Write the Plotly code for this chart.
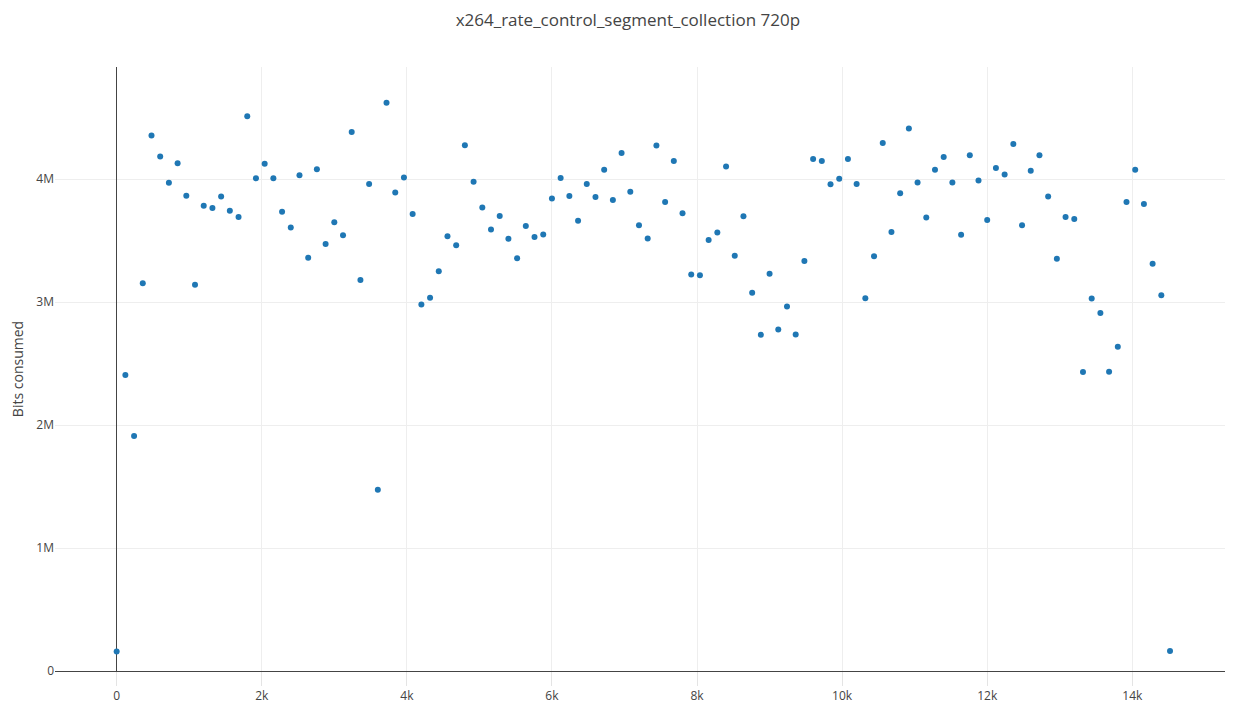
import plotly.graph_objects as go

# Segment start frame (x) and bits consumed (y)
segment_start = [i * 120 for i in range(122)]
bits_m = [
    0.159, 2.407, 1.911, 3.153, 4.355, 4.183, 3.969, 4.128, 3.865, 3.141,
    3.783, 3.765, 3.859, 3.743, 3.691, 4.511, 4.006, 4.125, 4.006, 3.734,
    3.606, 4.031, 3.361, 4.080, 3.471, 3.648, 3.544, 4.382, 3.180, 3.960,
    1.474, 4.621, 3.890, 4.012, 3.716, 2.979, 3.034, 3.251, 3.535, 3.462,
    4.275, 3.979, 3.768, 3.590, 3.700, 3.514, 3.355, 3.618, 3.529, 3.550,
    3.841, 4.009, 3.862, 3.661, 3.960, 3.853, 4.076, 3.829, 4.211, 3.896,
    3.624, 3.517, 4.272, 3.813, 4.147, 3.722, 3.223, 3.217, 3.505, 3.566,
    4.101, 3.376, 3.697, 3.076, 2.734, 3.229, 2.777, 2.963, 2.737, 3.333,
    4.162, 4.147, 3.957, 4.003, 4.162, 3.960, 3.031, 3.373, 4.294, 3.569,
    3.884, 4.410, 3.972, 3.688, 4.076, 4.180, 3.972, 3.547, 4.193, 3.988,
    3.667, 4.089, 4.037, 4.284, 3.624, 4.067, 4.193, 3.859, 3.352, 3.691,
    3.676, 2.431, 3.028, 2.911, 2.434, 2.636, 3.813, 4.076, 3.798, 3.312,
    3.055, 0.162,
]
bits = [v * 1e6 for v in bits_m]

title_text = "x264_rate_control_segment_collection 720p"
y_title = "Bits consumed"

fig = go.Figure(
    go.Scatter(
        x=segment_start,
        y=bits,
        mode="markers",
        marker=dict(color="#1f77b4", size=6),
    )
)

fig.update_layout(
    template="none",
    width=1225,
    height=700,
    margin=dict(l=47, r=0, t=59, b=37),
    paper_bgcolor="white",
    plot_bgcolor="white",
    font=dict(family="Open Sans, verdana, arial, sans-serif", size=12, color="#444"),
    title=dict(text=title_text, x=0.506, xanchor="center", y=0.983, yanchor="middle",
               font=dict(size=17, color="#444")),
    showlegend=False,
    xaxis=dict(
        range=[-850, 15388],
        tickvals=[0, 2000, 4000, 6000, 8000, 10000, 12000, 14000],
        ticktext=["0", "2k", "4k", "6k", "8k", "10k", "12k", "14k"],
        showgrid=True, gridcolor="#eee", gridwidth=1,
        zeroline=True, zerolinecolor="#444", zerolinewidth=1,
        ticks="outside", ticklen=14, tickcolor="#e4e4e4",
        showline=False,
    ),
    yaxis=dict(
        range=[0, 4.911e6],
        tickvals=[0, 1e6, 2e6, 3e6, 4e6],
        ticktext=["0", "1M", "2M", "3M", "4M"],
        showgrid=True, gridcolor="#eee", gridwidth=1,
        zeroline=True, zerolinecolor="#444", zerolinewidth=1,
        ticks="", showline=False,
        title=dict(text=y_title, font=dict(size=14, color="#444")),
    ),
)

fig.write_html("out.html")
